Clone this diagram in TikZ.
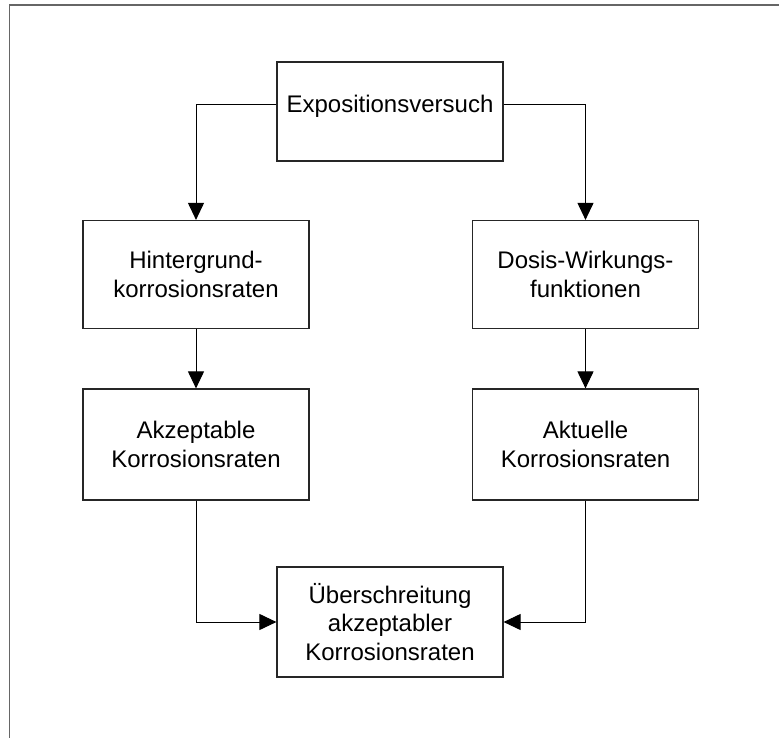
\documentclass[tikz,border=0pt]{standalone}
\usepackage{fontspec}
\setmainfont{Liberation Sans}
\usetikzlibrary{arrows.meta}
\begin{document}
\begin{tikzpicture}[x=1pt,y=-1pt,
    kasten/.style={draw=black!85, line width=1.2pt, minimum width=226pt, minimum height=108pt,
        align=center, inner sep=0pt, font=\fontsize{24}{28.5}\selectfont},
    pfeil/.style={draw=black, line width=1pt, -{Triangle[length=17pt,width=16pt]}},
    rahmen/.style={draw=black!60, line width=1.8pt}]
    \useasboundingbox (0,0) rectangle (779,738);
    \draw[rahmen] (9.5,738) -- (9.5,5) -- (779,5);

    \node[kasten, minimum height=99pt, text height=17pt, text depth=15pt] (expo) at (390,111.5) {Expositionsversuch};
    \node[kasten] (hint) at (196,274.5) {Hintergrund-\\korrosionsraten};
    \node[kasten] (dosis) at (585.5,274.5) {Dosis-Wirkungs-\\funktionen};
    \node[kasten, minimum height=111pt] (akz) at (196,444.5) {Akzeptable\\Korrosionsraten};
    \node[kasten, minimum height=111pt] (akt) at (585.5,444.5) {Aktuelle\\Korrosionsraten};
    \node[kasten, minimum height=110pt] (ueber) at (390,622) {Überschreitung\\akzeptabler\\Korrosionsraten};

    \draw[pfeil] ([yshift=6.5pt]expo.west) -| (hint.north);
    \draw[pfeil] ([yshift=6.5pt]expo.east) -| (dosis.north);
    \draw[pfeil] (hint) -- (akz);
    \draw[pfeil] (dosis) -- (akt);
    \draw[pfeil] (akz.south) |- (ueber.west);
    \draw[pfeil] (akt.south) |- (ueber.east);
\end{tikzpicture}
\end{document}
